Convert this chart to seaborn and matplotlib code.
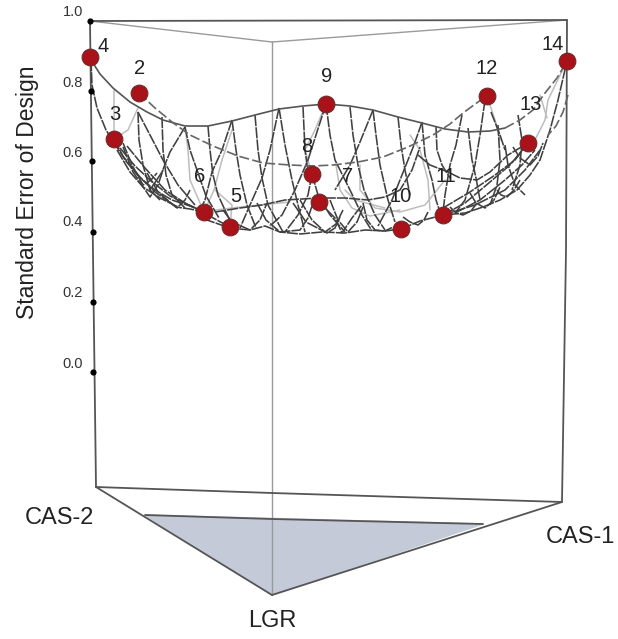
import matplotlib
matplotlib.use("Agg")
import matplotlib.pyplot as plt
import pandas as pd
import seaborn as sns

design_ids = ["4", "2", "3", "6", "5", "8", "7", "9", "10", "11", "12", "13", "14"]
design_x = [90, 139, 114, 204, 230, 312, 319, 326, 401, 443, 487, 528, 567]
design_y = [57, 93, 139, 212, 227, 174, 202, 104, 229, 215, 96, 143, 61]
label_x = [103, 140, 115, 200, 236, 307, 348, 327, 401, 446, 487, 531, 553]
label_y = [47, 69, 115, 177, 197, 146, 176, 77, 197, 176, 68, 104, 44]

se_ticks = ["1.0", "0.8", "0.6", "0.4", "0.2", "0.0"]
se_tick_y = [21, 91, 161, 232, 302, 372]
se_tick_x = [90, 91, 92, 93, 93, 93]
se_label_y = [12, 83, 153, 222, 293, 364]

corner_names = ["CAS-2", "CAS-1", "LGR"]
corner_x = [59, 580, 272]
corner_y = [518, 537, 621]

region_x = [145, 483, 272]
region_y = [515, 524, 595]

frame_dark = [
    [(90, 21), (96, 487)],
    [(90, 21), (567, 20)],
    [(567, 20), (566, 250), (562, 502)],
    [(96, 487), (272, 595)],
    [(272, 595), (562, 502)],
    [(96, 487), (272, 493), (562, 502)],
    [(145, 515), (272, 519), (483, 524)],
]
frame_light = [
    [(90, 21), (272, 42)],
    [(272, 42), (567, 20)],
    [(272, 42), (272, 595)],
]

# long strands of the response surface
back_curve = [(91, 60), (100, 74), (113, 88), (130, 102), (147, 112), (163, 120), (185, 126), (208, 126),
              (232, 121), (255, 115), (279, 109), (303, 106), (326, 104), (350, 106), (373, 110),
              (398, 117), (422, 123), (445, 129), (468, 132), (490, 131), (505, 128)]
dashed_curves = [
    [(139, 93), (155, 108), (172, 122), (190, 135), (213, 146), (238, 156), (263, 163), (290, 165),
     (313, 166), (333, 165), (358, 162), (383, 157), (408, 147), (433, 135), (450, 124), (463, 113),
     (478, 102), (487, 96)],
    [(505, 128), (520, 120), (533, 110), (545, 93), (557, 78), (567, 61)],
    [(568, 95), (563, 112), (556, 126), (548, 135)],
]
dark_wires = [
    [(91, 60), (92, 85), (97, 108), (106, 130), (122, 155), (140, 177), (155, 192), (176, 207), (190, 209), (204, 212)],
    [(114, 139), (125, 160), (140, 178), (155, 190), (172, 200), (190, 206), (204, 212)],
    [(120, 148), (135, 166), (150, 180), (170, 196), (195, 208), (215, 219), (230, 227)],
    [(127, 146), (145, 168), (165, 190), (185, 203), (204, 212)],
    [(117, 150), (130, 172), (143, 187), (160, 198), (178, 207)],
    [(204, 219), (230, 228), (250, 230), (265, 226), (280, 232), (300, 234), (322, 232), (345, 233), (365, 230), (385, 231), (401, 229)],
    [(215, 212), (240, 208), (262, 205), (285, 200), (319, 198), (345, 198), (368, 200), (385, 197), (400, 190), (412, 170), (420, 147)],
    [(401, 229), (420, 221), (443, 215), (465, 213), (483, 207), (500, 200), (517, 190), (530, 175), (540, 160), (550, 130), (558, 100), (567, 61)],
    [(443, 215), (465, 203), (490, 182), (510, 165), (528, 143)],
    [(443, 208), (470, 192), (495, 175), (515, 160), (528, 143)],
    [(443, 215), (475, 205), (505, 190), (525, 170), (540, 150)],
    [(455, 213), (480, 200), (505, 180), (522, 165), (535, 150)],
    [(418, 155), (430, 165), (448, 172), (460, 178), (477, 180), (490, 172), (508, 155), (528, 143)],
    # scallops along the lower edge
    [(223, 210), (232, 222), (250, 230), (260, 220), (267, 203)],
    [(257, 203), (266, 220), (280, 232), (300, 230), (308, 218), (313, 203)],
    [(293, 203), (306, 222), (327, 233), (335, 228), (340, 217)],
    [(300, 200), (312, 220), (325, 232), (336, 224), (343, 210)],
    [(330, 200), (338, 220), (348, 232), (357, 222), (363, 207)],
    [(363, 203), (367, 220), (375, 230), (385, 231), (393, 227)],
    [(403, 217), (410, 222), (418, 225), (424, 220), (428, 212)],
    [(450, 207), (456, 213), (463, 215), (471, 211), (477, 203)],
    [(470, 193), (476, 203), (485, 208), (494, 200), (500, 187)],
    [(497, 190), (501, 195), (507, 197), (514, 190), (520, 180)],
    [(513, 147), (520, 158), (530, 165), (538, 156), (543, 143)],
    [(123, 147), (133, 172), (150, 197), (158, 185), (163, 170)],
    [(147, 173), (158, 192), (177, 208), (185, 200), (190, 190)],
    [(123, 143), (132, 165), (143, 185), (151, 180), (157, 173)],
    # wires hanging from the back curve
    [(138, 112), (139, 140), (143, 165), (150, 190), (160, 200)],
    [(138, 112), (150, 135), (163, 160), (178, 185), (195, 205)],
    [(162, 117), (163, 150), (166, 175), (172, 195), (185, 208)],
    [(185, 127), (170, 152), (162, 172), (150, 190)],
    [(185, 127), (190, 150), (197, 170), (206, 196), (219, 218)],
    [(208, 126), (210, 150), (213, 175), (218, 195), (232, 225)],
    [(232, 120), (222, 150), (212, 172), (205, 200), (200, 210)],
    [(232, 120), (236, 150), (240, 175), (247, 205), (256, 228)],
    [(255, 115), (258, 150), (262, 178), (268, 205), (283, 232)],
    [(279, 108), (270, 150), (262, 178), (250, 205), (240, 228)],
    [(279, 108), (285, 145), (292, 180), (298, 205), (305, 232)],
    [(303, 107), (305, 150), (308, 172)],
    [(326, 104), (330, 135), (335, 160), (350, 190), (362, 215), (372, 231)],
    [(326, 104), (316, 135), (308, 160), (295, 190), (282, 215), (270, 226)],
    [(312, 174), (318, 195), (330, 215), (345, 232)],
    [(312, 174), (308, 195), (298, 215), (285, 232)],
    [(319, 202), (335, 218), (342, 233), (352, 218), (362, 205)],
    [(350, 107), (353, 135), (358, 165), (364, 190), (375, 215), (385, 230)],
    [(373, 110), (360, 142), (350, 165), (335, 190)],
    [(373, 110), (376, 135), (380, 165), (388, 200), (395, 222)],
    [(398, 117), (401, 145), (405, 170), (410, 195)],
    [(422, 122), (414, 145), (406, 165), (392, 200), (378, 226)],
    [(422, 122), (425, 155), (432, 180), (436, 200), (440, 212)],
    [(436, 127), (437, 150), (442, 165), (450, 178)],
    [(462, 115), (456, 145), (450, 165), (445, 195), (443, 212)],
    [(468, 128), (472, 160), (476, 178), (480, 200)],
    [(485, 100), (480, 135), (475, 165), (465, 200), (456, 212)],
    [(498, 125), (500, 160), (497, 185), (490, 205)],
    [(518, 115), (522, 140), (520, 165), (512, 190)],
    [(505, 145), (508, 165), (515, 185), (525, 195)],
    [(491, 112), (500, 135), (505, 150)],
]
light_wires = [
    [(114, 139), (128, 130), (138, 108)],
    [(114, 139), (114, 110), (114, 90)],
    [(204, 212), (190, 180), (188, 150), (185, 127)],
    [(204, 212), (214, 190), (222, 160), (232, 130)],
    [(230, 227), (232, 205), (215, 190)],
    [(326, 104), (315, 130), (305, 150), (312, 174)],
    [(215, 210), (250, 206), (290, 202)],
    [(336, 165), (340, 190), (352, 208), (370, 216), (400, 210)],
    [(360, 165), (360, 190), (375, 208), (400, 212), (425, 205), (445, 180)],
    [(430, 210), (428, 180), (420, 150), (410, 135)],
    [(345, 190), (355, 200), (385, 208)],
    [(567, 61), (548, 100), (545, 120), (535, 140)],
    [(487, 96), (495, 120), (500, 140)],
    [(540, 95), (547, 118)],
]


def wire_table(wires):
    rows = []
    for n, wire in enumerate(wires):
        for x, y in wire:
            rows.append({"wire": n, "x": x, "y": y})
    return pd.DataFrame(rows)


def draw_wires(wires, color, width, dashes=None):
    line = sns.lineplot(data=wire_table(wires), x="x", y="y", units="wire", estimator=None,
                        sort=False, color=color, linewidth=width, ax=ax, legend=False)
    if dashes:
        for artist in line.lines[-len(wires):]:
            artist.set_dashes(dashes)


sns.set_theme(style="white")
plt.rcParams["font.family"] = ["Liberation Sans", "DejaVu Sans"]

fig = plt.figure(figsize=(6.18, 6.39), dpi=100)
ax = fig.add_axes([0, 0, 1, 1])

ax.fill(region_x, region_y, color="#c5cad9", zorder=0)
draw_wires(frame_light, "#9a9a9a", 1.0)
draw_wires(frame_dark, "#555555", 1.3)

draw_wires(light_wires, "#bdbdbd", 1.1)
draw_wires(dark_wires, "#404040", 1.15, dashes=(7, 0.7))
draw_wires([back_curve], "#555555", 1.2)
draw_wires(dashed_curves, "#666666", 1.2, dashes=(6, 2))

sns.scatterplot(x=se_tick_x, y=se_tick_y, color="black", s=20, linewidth=0, ax=ax, zorder=5)
sns.scatterplot(x=design_x, y=design_y, color="#a81218", edgecolor="#6e2a2a", s=145,
                linewidth=0.8, ax=ax, zorder=6)

for tick, y in zip(se_ticks, se_label_y):
    ax.text(73, y, tick, ha="center", va="center", fontsize=10.5, color="#333333")
for name, x, y in zip(design_ids, label_x, label_y):
    ax.text(x, y, name, ha="center", va="center", fontsize=14.5, color="#222222", zorder=7)
for name, x, y in zip(corner_names, corner_x, corner_y):
    ax.text(x, y, name, ha="center", va="center", fontsize=17, color="#222222")
ax.text(28, 192, "Standard Error of Design", rotation=90, ha="center", va="center",
        fontsize=16.5, color="#222222")

ax.set_xlim(0, 618)
ax.set_ylim(639, 0)
ax.set_xlabel("")
ax.set_ylabel("")
ax.axis("off")

fig.savefig("out.png", dpi=100)
